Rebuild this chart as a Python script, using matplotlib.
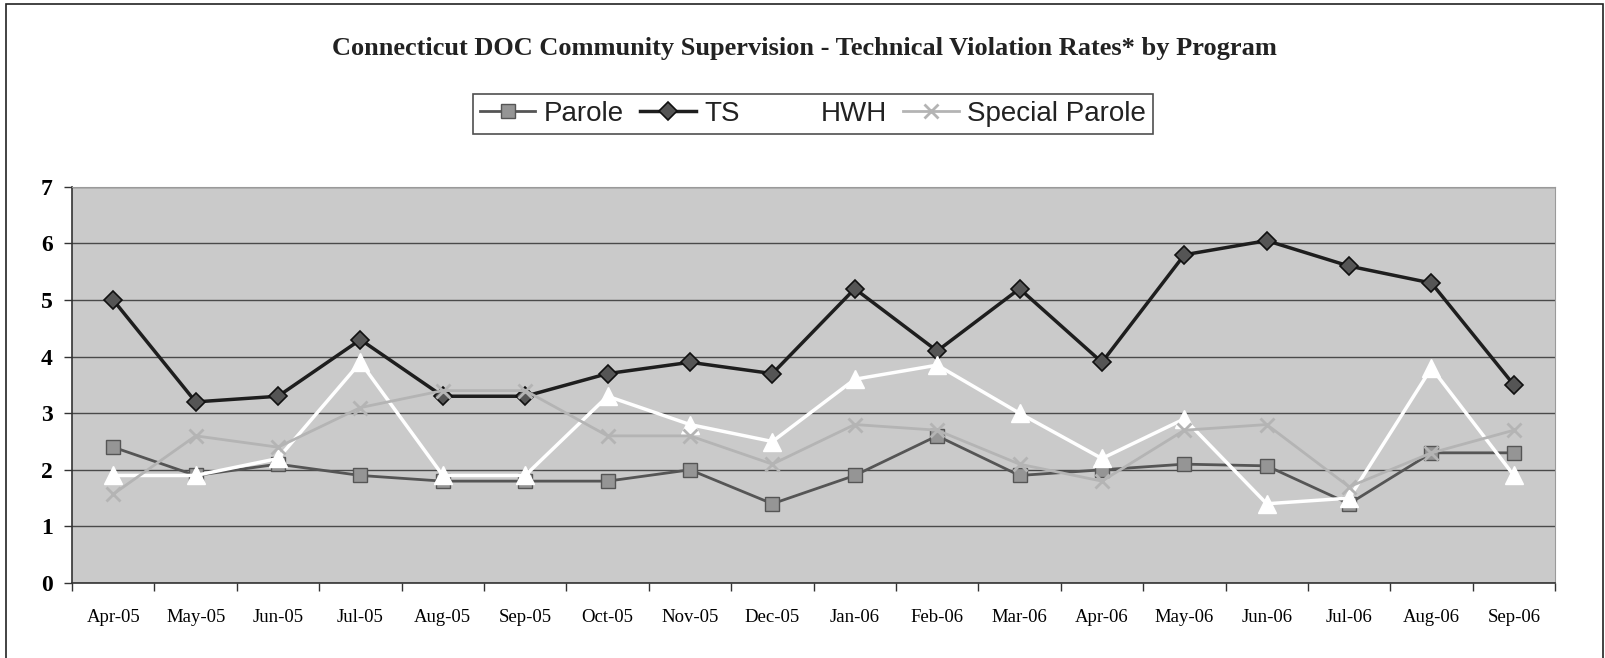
import matplotlib
matplotlib.use('Agg')
import matplotlib.pyplot as plt
from matplotlib.patches import Rectangle
import numpy as np

months = ['Apr-05', 'May-05', 'Jun-05', 'Jul-05', 'Aug-05', 'Sep-05', 'Oct-05', 'Nov-05', 'Dec-05',
          'Jan-06', 'Feb-06', 'Mar-06', 'Apr-06', 'May-06', 'Jun-06', 'Jul-06', 'Aug-06', 'Sep-06']
parole = [2.4, 1.9, 2.1, 1.9, 1.8, 1.8, 1.8, 2.0, 1.4, 1.9, 2.6, 1.9, 2.0, 2.1, 2.07, 1.4, 2.3, 2.3]
ts = [5.0, 3.2, 3.3, 4.3, 3.3, 3.3, 3.7, 3.9, 3.7, 5.2, 4.1, 5.2, 3.9, 5.8, 6.05, 5.6, 5.3, 3.5]
hwh = [1.9, 1.9, 2.2, 3.9, 1.9, 1.9, 3.3, 2.8, 2.5, 3.6, 3.85, 3.0, 2.2, 2.9, 1.4, 1.5, 3.8, 1.9]
special_parole = [1.57, 2.6, 2.4, 3.1, 3.4, 3.4, 2.6, 2.6, 2.1, 2.8, 2.7, 2.1, 1.8, 2.7, 2.8, 1.7, 2.3, 2.7]

fig = plt.figure(figsize=(16.05, 6.58), dpi=100)
ax = fig.add_axes([0.0449, 0.114, 0.924, 0.602])
ax.set_facecolor('#cacaca')

x = np.arange(len(months))

# series (Excel-style greyscale print)
ax.plot(x, parole, color='#555555', lw=2.0, marker='s', ms=10.5, mfc='#959595', mec='#555555',
        mew=1.0, label='Parole', zorder=3)
ax.plot(x, ts, color='#1e1e1e', lw=2.5, marker='D', ms=9, mfc='#555555', mec='#111111',
        mew=1.2, label='TS', zorder=4)
ax.plot(x, hwh, color='white', lw=2.5, marker='^', ms=12.5, mfc='white', mec='white',
        label='HWH', zorder=5)
ax.plot(x, special_parole, color='#b4b4b4', lw=2.0, marker='x', ms=10.5, mew=2.0, mec='#b4b4b4',
        label='Special Parole', zorder=6)

ax.set_xlim(-0.5, len(months) - 0.5)
ax.set_ylim(0, 7)
ax.set_yticks(range(0, 8))
ax.yaxis.grid(True, color='#4a4a4a', lw=1.0)
ax.set_axisbelow(True)

ax.set_xticks(x)
ax.set_xticklabels(months, fontfamily='Liberation Serif', fontsize=13.5)
ax.set_xticks(np.arange(-0.5, len(months), 1.0), minor=True)
ax.tick_params(axis='x', which='major', length=0, pad=19)
ax.tick_params(axis='x', which='minor', length=6, width=1.0, color='#333333', direction='out')
ax.tick_params(axis='y', length=6, width=1.0, color='#333333', pad=8)
for lab in ax.get_yticklabels():
    lab.set_fontfamily('Liberation Serif')
    lab.set_fontsize(17)
    lab.set_fontweight('bold')

for s in ['left', 'bottom']:
    ax.spines[s].set_color('#333333')
    ax.spines[s].set_linewidth(1.2)
for s in ['top', 'right']:
    ax.spines[s].set_color('#9a9a9a')
    ax.spines[s].set_linewidth(0.8)

fig.text(0.5015, 0.927, 'Connecticut DOC Community Supervision - Technical Violation Rates* by Program',
         ha='center', va='center', fontfamily='Liberation Serif', fontweight='bold', fontsize=19,
         color='#222222')

leg = fig.legend(loc='center', bbox_to_anchor=(0.5065, 0.827), ncol=4, frameon=True,
                 prop={'family': 'Liberation Sans', 'size': 20}, handlelength=2.0,
                 handletextpad=0.3, columnspacing=0.6, borderpad=0.25, fancybox=False)
leg.get_frame().set_edgecolor('#222222')
leg.get_frame().set_linewidth(1.2)
for t in leg.get_texts():
    t.set_color('#222222')

# outer chart-area frame
fig.patches.append(Rectangle((6 / 1605, -0.02), 1597 / 1605, 1 - 4 / 658 + 0.02,
                             transform=fig.transFigure, fill=False, ec='#222222', lw=1.2))

fig.savefig('out.png', dpi=100)
